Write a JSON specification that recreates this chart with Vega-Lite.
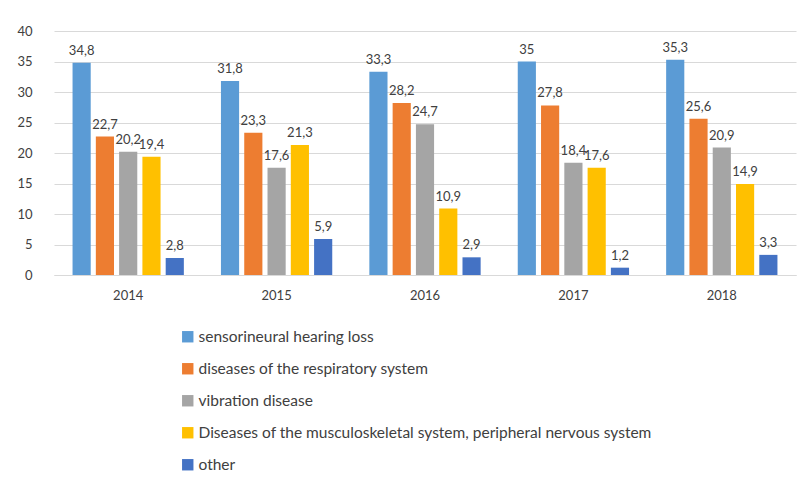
{
  "$schema": "https://vega.github.io/schema/vega-lite/v6.json",
  "width": 742,
  "height": 244,
  "autosize": {"type": "none"},
  "padding": {"left": 54, "top": 31, "right": 16, "bottom": 206},
  "background": "white",
  "data": {"values": [
    {"year": "2014", "cat": "sensorineural hearing loss", "v": 34.8},
    {"year": "2014", "cat": "diseases of the respiratory system", "v": 22.7},
    {"year": "2014", "cat": "vibration disease", "v": 20.2},
    {"year": "2014", "cat": "Diseases of the musculoskeletal system, peripheral nervous system", "v": 19.4},
    {"year": "2014", "cat": "other", "v": 2.8},
    {"year": "2015", "cat": "sensorineural hearing loss", "v": 31.8},
    {"year": "2015", "cat": "diseases of the respiratory system", "v": 23.3},
    {"year": "2015", "cat": "vibration disease", "v": 17.6},
    {"year": "2015", "cat": "Diseases of the musculoskeletal system, peripheral nervous system", "v": 21.3},
    {"year": "2015", "cat": "other", "v": 5.9},
    {"year": "2016", "cat": "sensorineural hearing loss", "v": 33.3},
    {"year": "2016", "cat": "diseases of the respiratory system", "v": 28.2},
    {"year": "2016", "cat": "vibration disease", "v": 24.7},
    {"year": "2016", "cat": "Diseases of the musculoskeletal system, peripheral nervous system", "v": 10.9},
    {"year": "2016", "cat": "other", "v": 2.9},
    {"year": "2017", "cat": "sensorineural hearing loss", "v": 35},
    {"year": "2017", "cat": "diseases of the respiratory system", "v": 27.8},
    {"year": "2017", "cat": "vibration disease", "v": 18.4},
    {"year": "2017", "cat": "Diseases of the musculoskeletal system, peripheral nervous system", "v": 17.6},
    {"year": "2017", "cat": "other", "v": 1.2},
    {"year": "2018", "cat": "sensorineural hearing loss", "v": 35.3},
    {"year": "2018", "cat": "diseases of the respiratory system", "v": 25.6},
    {"year": "2018", "cat": "vibration disease", "v": 20.9},
    {"year": "2018", "cat": "Diseases of the musculoskeletal system, peripheral nervous system", "v": 14.9},
    {"year": "2018", "cat": "other", "v": 3.3}
  ]},
  "encoding": {
    "x": {"field": "year", "type": "nominal", "scale": {"paddingInner": 0.25, "paddingOuter": 0.125},
      "axis": {"title": null, "labelAngle": 0, "ticks": false, "domainColor": "#d9d9d9", "labelPadding": 14, "labelFontSize": 13, "labelColor": "#404040"}},
    "xOffset": {"field": "cat", "type": "nominal", "sort": null, "scale": {"paddingInner": 0.22, "paddingOuter": 0}},
    "y": {"field": "v", "type": "quantitative", "scale": {"domain": [0, 40]},
      "axis": {"title": null, "values": [0,5,10,15,20,25,30,35,40], "domain": false, "ticks": false, "labelPadding": 22, "labelFontSize": 13, "labelColor": "#404040", "gridColor": "#d9d9d9", "format": "d"}}
  },
  "layer": [
    {"mark": {"type": "bar"},
     "encoding": {"color": {"field": "cat", "type": "nominal", "sort": null,
       "scale": {"domain": ["sensorineural hearing loss", "diseases of the respiratory system", "vibration disease", "Diseases of the musculoskeletal system, peripheral nervous system", "other"],
                 "range": ["#5B9BD5", "#ED7D31", "#A5A5A5", "#FFC000", "#4472C4"]},
       "legend": {"title": null, "orient": "none", "legendX": 126, "legendY": 298, "direction": "vertical", "symbolType": "square", "symbolSize": 130, "symbolStrokeWidth": 0, "labelFontSize": 15.5, "labelColor": "#404040", "rowPadding": 15, "labelOffset": 3, "labelLimit": 700}}}},
    {"mark": {"type": "text", "baseline": "bottom", "dy": -5, "fontSize": 13, "color": "#404040"},
     "encoding": {"text": {"field": "v", "type": "quantitative", "format": ".1~f"}}}
  ],
  "config": {
    "font": "Lato",
    "view": {"stroke": null},
    "locale": {"number": {"decimal": ",", "thousands": " ", "grouping": [3], "currency": ["", ""]}}
  }
}
